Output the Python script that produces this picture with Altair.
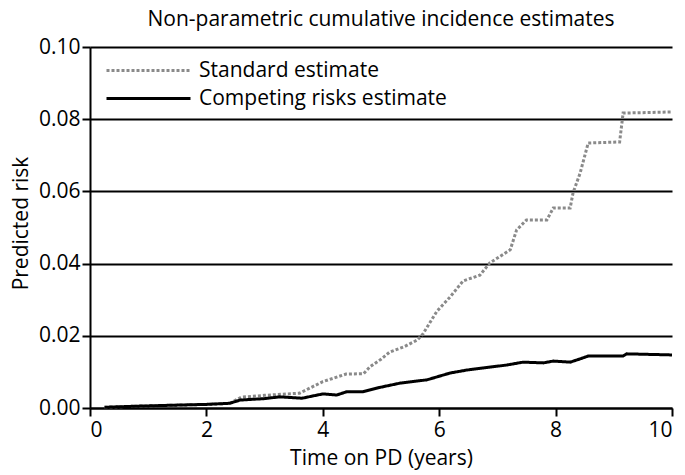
import altair as alt
import pandas as pd

series_names = ["Standard estimate", "Competing risks estimate"]

std_t = [0.25, 0.8, 1.5, 2.0, 2.4, 2.6, 3.0, 3.3, 3.6, 4.0, 4.4, 4.7, 4.81, 5.0, 5.15, 5.4, 5.62, 5.72, 5.96,
         6.19, 6.41, 6.70, 6.87, 7.22, 7.33, 7.50, 7.85, 7.96, 8.25, 8.30, 8.42, 8.56, 9.10, 9.16, 10.0]
std_v = [0.0002, 0.0005, 0.0008, 0.0010, 0.0013, 0.0030, 0.0035, 0.0038, 0.0041, 0.0073, 0.0094, 0.0095, 0.0114,
         0.0135, 0.0155, 0.0170, 0.0188, 0.0205, 0.0268, 0.0308, 0.0352, 0.0368, 0.0402, 0.0438, 0.0493, 0.0521,
         0.0521, 0.0554, 0.0554, 0.0596, 0.0650, 0.0734, 0.0737, 0.0817, 0.0820]

cr_t = [0.25, 0.8, 1.5, 2.0, 2.4, 2.58, 3.0, 3.26, 3.64, 4.0, 4.24, 4.41, 4.69, 4.98, 5.33, 5.79, 6.19, 6.47,
        6.76, 7.16, 7.44, 7.79, 7.96, 8.25, 8.42, 8.56, 9.16, 9.22, 10.0]
cr_v = [0.0002, 0.0005, 0.0008, 0.0010, 0.0013, 0.0022, 0.0026, 0.0031, 0.0027, 0.0039, 0.0036, 0.0045, 0.0045,
        0.0057, 0.0069, 0.0078, 0.0097, 0.0105, 0.0111, 0.0119, 0.0127, 0.0125, 0.0130, 0.0127, 0.0136, 0.0144,
        0.0144, 0.0150, 0.0147]

x_ticks = [0, 2, 4, 6, 8, 10]
y_ticks = [0.0, 0.02, 0.04, 0.06, 0.08, 0.10]

df = pd.concat([
    pd.DataFrame({"t": std_t, "v": std_v, "series": series_names[0], "o": 0}),
    pd.DataFrame({"t": cr_t, "v": cr_v, "series": series_names[1], "o": 1}),
])

FONT = "Open Sans"

legend = alt.Legend(
    title=None, orient="none", legendX=15, legendY=8,
    symbolType="M -1 0 L 5 0", symbolSize=784, symbolStrokeWidth=3,
    labelFontSize=21, labelFont=FONT, labelColor="black", labelOffset=63,
    labelLimit=400, rowPadding=2,
)

chart = alt.Chart(df).mark_line(strokeWidth=3).encode(
    x=alt.X("t:Q", scale=alt.Scale(domain=[0, 10], nice=False),
            axis=alt.Axis(values=x_ticks, grid=False, title="Time on PD (years)", format="d")),
    y=alt.Y("v:Q", scale=alt.Scale(domain=[0, 0.1], nice=False),
            axis=alt.Axis(values=y_ticks, grid=True, title="Predicted risk", format=".2f",
                          titleX=-69, titleY=176, titleAngle=270, titleAlign="center",
                          titleBaseline="middle")),
    color=alt.Color("series:N", sort=series_names,
                    scale=alt.Scale(domain=series_names, range=["#8a8a8a", "#000000"]), legend=legend),
    strokeDash=alt.StrokeDash("series:N", sort=series_names,
                              scale=alt.Scale(domain=series_names, range=[[3, 2], [1, 0]]), legend=legend),
    order="o:Q",
).properties(
    width=582, height=361,
    title=alt.Title("Non-parametric cumulative incidence estimates", font=FONT, fontSize=21,
                    fontWeight="normal", color="black", offset=6),
    autosize=alt.AutoSizeParams(type="none"),
    padding={"left": 82, "top": 39, "right": 5, "bottom": 67},
).configure_view(stroke=None).configure_axis(
    domainColor="black", domainWidth=2, tickColor="black", tickWidth=2, tickSize=8,
    gridColor="black", gridWidth=2, gridOpacity=1,
    labelFont=FONT, labelFontSize=21, labelColor="black",
    titleFont=FONT, titleFontSize=21, titleColor="black", titleFontWeight="normal",
).configure_axisY(labelPadding=2).configure_axisX(titlePadding=7, labelPadding=3)

chart.save("out.html", embed_options={"renderer": "svg", "actions": False})
